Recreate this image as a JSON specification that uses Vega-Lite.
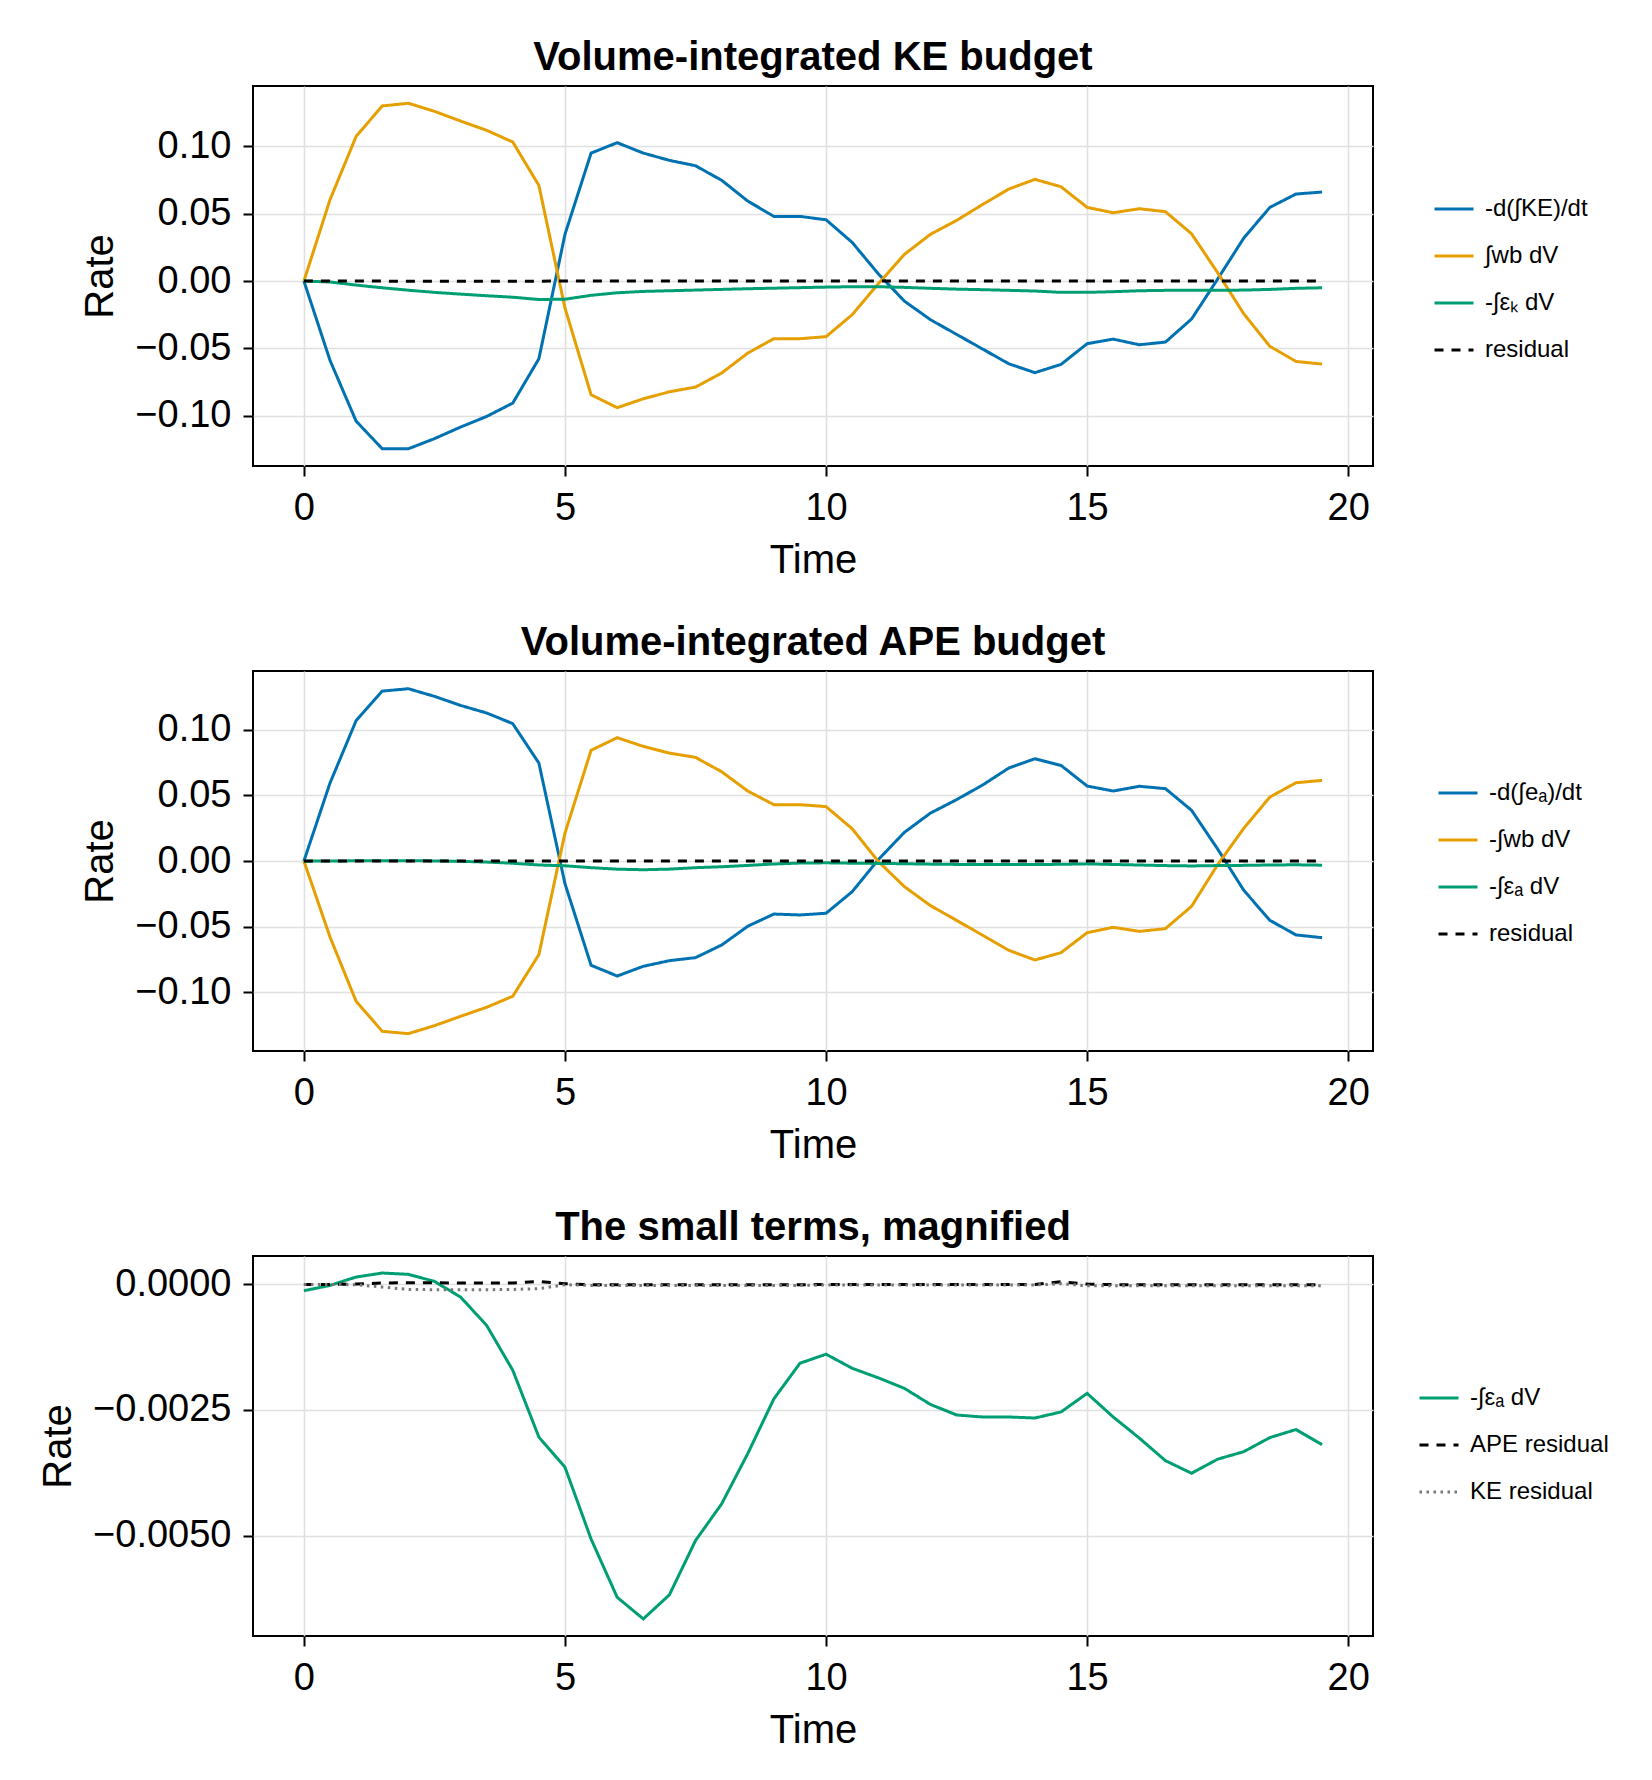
{
  "$schema": "https://vega.github.io/schema/vega-lite/v6.json",
  "background": "white",
  "padding": {"left": 37, "top": 37, "right": 20, "bottom": 10},
  "spacing": 41,
  "config": {
    "font": "Liberation Sans",
    "view": {"stroke": "black", "strokeWidth": 2},
    "axis": {"grid": true, "gridColor": "#e0e0e0", "gridWidth": 1.6, "domain": false, "ticks": true, "tickColor": "black", "tickWidth": 2, "tickSize": 10, "labelFontSize": 38, "labelColor": "black", "labelFont": "Liberation Sans", "titleFont": "Liberation Sans", "titleFontSize": 40, "titleFontWeight": "normal", "titleColor": "black"},
    "axisX": {"labelPadding": 13, "titlePadding": 13},
    "axisY": {"labelPadding": 12, "titlePadding": 14},
    "title": {"fontSize": 40, "fontWeight": "bold", "font": "Liberation Sans", "anchor": "middle", "frame": "group", "offset": 8, "color": "black"},
    "legend": {"orient": "none", "title": null, "labelFontSize": 24, "labelFont": "Liberation Sans", "labelColor": "black", "symbolType": "stroke", "symbolSize": 1521, "symbolStrokeWidth": 3, "labelOffset": 10, "rowPadding": 14, "padding": 0, "labelLimit": 400}
  },
  "resolve": {"scale": {"x": "independent", "y": "independent", "color": "independent", "strokeDash": "independent"}, "legend": {"color": "independent", "strokeDash": "independent"}},
  "datasets": {
    "ke": [
      {"time":0,"series":"-d(∫KE)/dt","rate":0},{"time":0.5,"series":"-d(∫KE)/dt","rate":-0.0589},{"time":1,"series":"-d(∫KE)/dt","rate":-0.104},{"time":1.5,"series":"-d(∫KE)/dt","rate":-0.1245},{"time":2,"series":"-d(∫KE)/dt","rate":-0.1245},{"time":2.5,"series":"-d(∫KE)/dt","rate":-0.117},{"time":3,"series":"-d(∫KE)/dt","rate":-0.1084},{"time":3.5,"series":"-d(∫KE)/dt","rate":-0.1005},{"time":4,"series":"-d(∫KE)/dt","rate":-0.0906},{"time":4.5,"series":"-d(∫KE)/dt","rate":-0.0577},
      {"time":5,"series":"-d(∫KE)/dt","rate":0.0347},{"time":5.5,"series":"-d(∫KE)/dt","rate":0.095},{"time":6,"series":"-d(∫KE)/dt","rate":0.1027},{"time":6.5,"series":"-d(∫KE)/dt","rate":0.095},{"time":7,"series":"-d(∫KE)/dt","rate":0.0896},{"time":7.5,"series":"-d(∫KE)/dt","rate":0.0856},{"time":8,"series":"-d(∫KE)/dt","rate":0.0748},{"time":8.5,"series":"-d(∫KE)/dt","rate":0.0594},{"time":9,"series":"-d(∫KE)/dt","rate":0.048},{"time":9.5,"series":"-d(∫KE)/dt","rate":0.048},
      {"time":10,"series":"-d(∫KE)/dt","rate":0.0455},{"time":10.5,"series":"-d(∫KE)/dt","rate":0.0287},{"time":11,"series":"-d(∫KE)/dt","rate":0.0054},{"time":11.5,"series":"-d(∫KE)/dt","rate":-0.0149},{"time":12,"series":"-d(∫KE)/dt","rate":-0.0287},{"time":12.5,"series":"-d(∫KE)/dt","rate":-0.0396},{"time":13,"series":"-d(∫KE)/dt","rate":-0.0505},{"time":13.5,"series":"-d(∫KE)/dt","rate":-0.0614},{"time":14,"series":"-d(∫KE)/dt","rate":-0.068},{"time":14.5,"series":"-d(∫KE)/dt","rate":-0.0619},
      {"time":15,"series":"-d(∫KE)/dt","rate":-0.0465},{"time":15.5,"series":"-d(∫KE)/dt","rate":-0.0431},{"time":16,"series":"-d(∫KE)/dt","rate":-0.0473},{"time":16.5,"series":"-d(∫KE)/dt","rate":-0.0453},{"time":17,"series":"-d(∫KE)/dt","rate":-0.0282},{"time":17.5,"series":"-d(∫KE)/dt","rate":0.0015},{"time":18,"series":"-d(∫KE)/dt","rate":0.0319},{"time":18.5,"series":"-d(∫KE)/dt","rate":0.0547},{"time":19,"series":"-d(∫KE)/dt","rate":0.0646},{"time":19.5,"series":"-d(∫KE)/dt","rate":0.0661},
      {"time":0,"series":"∫wb dV","rate":0},{"time":0.5,"series":"∫wb dV","rate":0.0604},{"time":1,"series":"∫wb dV","rate":0.1074},{"time":1.5,"series":"∫wb dV","rate":0.13},{"time":2,"series":"∫wb dV","rate":0.132},{"time":2.5,"series":"∫wb dV","rate":0.126},{"time":3,"series":"∫wb dV","rate":0.1188},{"time":3.5,"series":"∫wb dV","rate":0.1119},{"time":4,"series":"∫wb dV","rate":0.1032},{"time":4.5,"series":"∫wb dV","rate":0.071},
      {"time":5,"series":"∫wb dV","rate":-0.02},{"time":5.5,"series":"∫wb dV","rate":-0.0844},{"time":6,"series":"∫wb dV","rate":-0.094},{"time":6.5,"series":"∫wb dV","rate":-0.0874},{"time":7,"series":"∫wb dV","rate":-0.0822},{"time":7.5,"series":"∫wb dV","rate":-0.0787},{"time":8,"series":"∫wb dV","rate":-0.0683},{"time":8.5,"series":"∫wb dV","rate":-0.0535},{"time":9,"series":"∫wb dV","rate":-0.0428},{"time":9.5,"series":"∫wb dV","rate":-0.0428},
      {"time":10,"series":"∫wb dV","rate":-0.0413},{"time":10.5,"series":"∫wb dV","rate":-0.025},{"time":11,"series":"∫wb dV","rate":-0.002},{"time":11.5,"series":"∫wb dV","rate":0.0198},{"time":12,"series":"∫wb dV","rate":0.0347},{"time":12.5,"series":"∫wb dV","rate":0.045},{"time":13,"series":"∫wb dV","rate":0.0569},{"time":13.5,"series":"∫wb dV","rate":0.0683},{"time":14,"series":"∫wb dV","rate":0.0755},{"time":14.5,"series":"∫wb dV","rate":0.07},
      {"time":15,"series":"∫wb dV","rate":0.0547},{"time":15.5,"series":"∫wb dV","rate":0.0507},{"time":16,"series":"∫wb dV","rate":0.0537},{"time":16.5,"series":"∫wb dV","rate":0.0515},{"time":17,"series":"∫wb dV","rate":0.0351},{"time":17.5,"series":"∫wb dV","rate":0.0062},{"time":18,"series":"∫wb dV","rate":-0.0243},{"time":18.5,"series":"∫wb dV","rate":-0.0485},{"time":19,"series":"∫wb dV","rate":-0.0597},{"time":19.5,"series":"∫wb dV","rate":-0.0616},
      {"time":0,"series":"-∫εₖ dV","rate":0},{"time":0.5,"series":"-∫εₖ dV","rate":-0.0007},{"time":1,"series":"-∫εₖ dV","rate":-0.003},{"time":1.5,"series":"-∫εₖ dV","rate":-0.005},{"time":2,"series":"-∫εₖ dV","rate":-0.0068},{"time":2.5,"series":"-∫εₖ dV","rate":-0.0084},{"time":3,"series":"-∫εₖ dV","rate":-0.0097},{"time":3.5,"series":"-∫εₖ dV","rate":-0.0109},{"time":4,"series":"-∫εₖ dV","rate":-0.012},{"time":4.5,"series":"-∫εₖ dV","rate":-0.0137},
      {"time":5,"series":"-∫εₖ dV","rate":-0.0135},{"time":5.5,"series":"-∫εₖ dV","rate":-0.0106},{"time":6,"series":"-∫εₖ dV","rate":-0.0087},{"time":6.5,"series":"-∫εₖ dV","rate":-0.0077},{"time":7,"series":"-∫εₖ dV","rate":-0.0072},{"time":7.5,"series":"-∫εₖ dV","rate":-0.0067},{"time":8,"series":"-∫εₖ dV","rate":-0.0062},{"time":8.5,"series":"-∫εₖ dV","rate":-0.0057},{"time":9,"series":"-∫εₖ dV","rate":-0.0053},{"time":9.5,"series":"-∫εₖ dV","rate":-0.0049},
      {"time":10,"series":"-∫εₖ dV","rate":-0.0045},{"time":10.5,"series":"-∫εₖ dV","rate":-0.0042},{"time":11,"series":"-∫εₖ dV","rate":-0.0042},{"time":11.5,"series":"-∫εₖ dV","rate":-0.0047},{"time":12,"series":"-∫εₖ dV","rate":-0.0054},{"time":12.5,"series":"-∫εₖ dV","rate":-0.006},{"time":13,"series":"-∫εₖ dV","rate":-0.0064},{"time":13.5,"series":"-∫εₖ dV","rate":-0.0069},{"time":14,"series":"-∫εₖ dV","rate":-0.0074},{"time":14.5,"series":"-∫εₖ dV","rate":-0.0084},
      {"time":15,"series":"-∫εₖ dV","rate":-0.0084},{"time":15.5,"series":"-∫εₖ dV","rate":-0.0079},{"time":16,"series":"-∫εₖ dV","rate":-0.0072},{"time":16.5,"series":"-∫εₖ dV","rate":-0.0069},{"time":17,"series":"-∫εₖ dV","rate":-0.0069},{"time":17.5,"series":"-∫εₖ dV","rate":-0.0069},{"time":18,"series":"-∫εₖ dV","rate":-0.0067},{"time":18.5,"series":"-∫εₖ dV","rate":-0.0062},{"time":19,"series":"-∫εₖ dV","rate":-0.0054},{"time":19.5,"series":"-∫εₖ dV","rate":-0.005},
      {"time":0,"series":"residual","rate":0},{"time":0.5,"series":"residual","rate":0},{"time":1,"series":"residual","rate":-0.000007},{"time":1.5,"series":"residual","rate":-0.000053},{"time":2,"series":"residual","rate":-0.0001},{"time":2.5,"series":"residual","rate":-0.000106},{"time":3,"series":"residual","rate":-0.000106},{"time":3.5,"series":"residual","rate":-0.000106},{"time":4,"series":"residual","rate":-0.0001},{"time":4.5,"series":"residual","rate":-0.000086},
      {"time":5,"series":"residual","rate":-0.000007},{"time":5.5,"series":"residual","rate":-0.00002},{"time":6,"series":"residual","rate":-0.00002},{"time":6.5,"series":"residual","rate":-0.00002},{"time":7,"series":"residual","rate":-0.00002},{"time":7.5,"series":"residual","rate":-0.00002},{"time":8,"series":"residual","rate":-0.00002},{"time":8.5,"series":"residual","rate":-0.00002},{"time":9,"series":"residual","rate":-0.00002},{"time":9.5,"series":"residual","rate":-0.00002},
      {"time":10,"series":"residual","rate":-0.000013},{"time":10.5,"series":"residual","rate":-0.000013},{"time":11,"series":"residual","rate":-0.000013},{"time":11.5,"series":"residual","rate":-0.000013},{"time":12,"series":"residual","rate":-0.000013},{"time":12.5,"series":"residual","rate":-0.000013},{"time":13,"series":"residual","rate":-0.000013},{"time":13.5,"series":"residual","rate":-0.000013},{"time":14,"series":"residual","rate":-0.000013},{"time":14.5,"series":"residual","rate":0.000013},
      {"time":15,"series":"residual","rate":-0.000027},{"time":15.5,"series":"residual","rate":-0.000027},{"time":16,"series":"residual","rate":-0.000027},{"time":16.5,"series":"residual","rate":-0.000027},{"time":17,"series":"residual","rate":-0.000027},{"time":17.5,"series":"residual","rate":-0.000027},{"time":18,"series":"residual","rate":-0.000027},{"time":18.5,"series":"residual","rate":-0.000027},{"time":19,"series":"residual","rate":-0.000027},{"time":19.5,"series":"residual","rate":-0.000027}
    ],
    "ape": [
      {"time":0,"series":"-d(∫eₐ)/dt","rate":0},{"time":0.5,"series":"-d(∫eₐ)/dt","rate":0.0594},{"time":1,"series":"-d(∫eₐ)/dt","rate":0.1069},{"time":1.5,"series":"-d(∫eₐ)/dt","rate":0.1294},{"time":2,"series":"-d(∫eₐ)/dt","rate":0.1312},{"time":2.5,"series":"-d(∫eₐ)/dt","rate":0.1254},{"time":3,"series":"-d(∫eₐ)/dt","rate":0.1185},{"time":3.5,"series":"-d(∫eₐ)/dt","rate":0.1127},{"time":4,"series":"-d(∫eₐ)/dt","rate":0.1046},{"time":4.5,"series":"-d(∫eₐ)/dt","rate":0.0746},
      {"time":5,"series":"-d(∫eₐ)/dt","rate":-0.0173},{"time":5.5,"series":"-d(∫eₐ)/dt","rate":-0.0794},{"time":6,"series":"-d(∫eₐ)/dt","rate":-0.0876},{"time":6.5,"series":"-d(∫eₐ)/dt","rate":-0.0802},{"time":7,"series":"-d(∫eₐ)/dt","rate":-0.0759},{"time":7.5,"series":"-d(∫eₐ)/dt","rate":-0.0736},{"time":8,"series":"-d(∫eₐ)/dt","rate":-0.064},{"time":8.5,"series":"-d(∫eₐ)/dt","rate":-0.0497},{"time":9,"series":"-d(∫eₐ)/dt","rate":-0.0404},{"time":9.5,"series":"-d(∫eₐ)/dt","rate":-0.0411},
      {"time":10,"series":"-d(∫eₐ)/dt","rate":-0.0398},{"time":10.5,"series":"-d(∫eₐ)/dt","rate":-0.0234},{"time":11,"series":"-d(∫eₐ)/dt","rate":0.001},{"time":11.5,"series":"-d(∫eₐ)/dt","rate":0.0218},{"time":12,"series":"-d(∫eₐ)/dt","rate":0.0365},{"time":12.5,"series":"-d(∫eₐ)/dt","rate":0.0467},{"time":13,"series":"-d(∫eₐ)/dt","rate":0.0579},{"time":13.5,"series":"-d(∫eₐ)/dt","rate":0.0708},{"time":14,"series":"-d(∫eₐ)/dt","rate":0.0779},{"time":14.5,"series":"-d(∫eₐ)/dt","rate":0.0728},
      {"time":15,"series":"-d(∫eₐ)/dt","rate":0.0571},{"time":15.5,"series":"-d(∫eₐ)/dt","rate":0.0533},{"time":16,"series":"-d(∫eₐ)/dt","rate":0.0569},{"time":16.5,"series":"-d(∫eₐ)/dt","rate":0.0551},{"time":17,"series":"-d(∫eₐ)/dt","rate":0.0386},{"time":17.5,"series":"-d(∫eₐ)/dt","rate":0.0091},{"time":18,"series":"-d(∫eₐ)/dt","rate":-0.0223},{"time":18.5,"series":"-d(∫eₐ)/dt","rate":-0.0452},{"time":19,"series":"-d(∫eₐ)/dt","rate":-0.0563},{"time":19.5,"series":"-d(∫eₐ)/dt","rate":-0.0584},
      {"time":0,"series":"-∫wb dV","rate":0},{"time":0.5,"series":"-∫wb dV","rate":-0.0579},{"time":1,"series":"-∫wb dV","rate":-0.1069},{"time":1.5,"series":"-∫wb dV","rate":-0.1297},{"time":2,"series":"-∫wb dV","rate":-0.1315},{"time":2.5,"series":"-∫wb dV","rate":-0.1254},{"time":3,"series":"-∫wb dV","rate":-0.1183},{"time":3.5,"series":"-∫wb dV","rate":-0.1114},{"time":4,"series":"-∫wb dV","rate":-0.103},{"time":4.5,"series":"-∫wb dV","rate":-0.0713},
      {"time":5,"series":"-∫wb dV","rate":0.0213},{"time":5.5,"series":"-∫wb dV","rate":0.0843},{"time":6,"series":"-∫wb dV","rate":0.0939},{"time":6.5,"series":"-∫wb dV","rate":0.0873},{"time":7,"series":"-∫wb dV","rate":0.0822},{"time":7.5,"series":"-∫wb dV","rate":0.0789},{"time":8,"series":"-∫wb dV","rate":0.068},{"time":8.5,"series":"-∫wb dV","rate":0.0533},{"time":9,"series":"-∫wb dV","rate":0.0429},{"time":9.5,"series":"-∫wb dV","rate":0.0429},
      {"time":10,"series":"-∫wb dV","rate":0.0414},{"time":10.5,"series":"-∫wb dV","rate":0.0246},{"time":11,"series":"-∫wb dV","rate":-0.0003},{"time":11.5,"series":"-∫wb dV","rate":-0.0195},{"time":12,"series":"-∫wb dV","rate":-0.034},{"time":12.5,"series":"-∫wb dV","rate":-0.0452},{"time":13,"series":"-∫wb dV","rate":-0.0566},{"time":13.5,"series":"-∫wb dV","rate":-0.068},{"time":14,"series":"-∫wb dV","rate":-0.0754},{"time":14.5,"series":"-∫wb dV","rate":-0.0698},
      {"time":15,"series":"-∫wb dV","rate":-0.0546},{"time":15.5,"series":"-∫wb dV","rate":-0.0505},{"time":16,"series":"-∫wb dV","rate":-0.0536},{"time":16.5,"series":"-∫wb dV","rate":-0.0515},{"time":17,"series":"-∫wb dV","rate":-0.0345},{"time":17.5,"series":"-∫wb dV","rate":-0.0028},{"time":18,"series":"-∫wb dV","rate":0.0249},{"time":18.5,"series":"-∫wb dV","rate":0.0487},{"time":19,"series":"-∫wb dV","rate":0.0596},{"time":19.5,"series":"-∫wb dV","rate":0.0614},
      {"time":0,"series":"-∫εₐ dV","rate":-0.000126},{"time":0.5,"series":"-∫εₐ dV","rate":-0.00002},{"time":1,"series":"-∫εₐ dV","rate":0.000146},{"time":1.5,"series":"-∫εₐ dV","rate":0.000226},{"time":2,"series":"-∫εₐ dV","rate":0.0002},{"time":2.5,"series":"-∫εₐ dV","rate":0.00006},{"time":3,"series":"-∫εₐ dV","rate":-0.000252},{"time":3.5,"series":"-∫εₐ dV","rate":-0.000817},{"time":4,"series":"-∫εₐ dV","rate":-0.00171},{"time":4.5,"series":"-∫εₐ dV","rate":-0.00304},
      {"time":5,"series":"-∫εₐ dV","rate":-0.00364},{"time":5.5,"series":"-∫εₐ dV","rate":-0.00507},{"time":6,"series":"-∫εₐ dV","rate":-0.00623},{"time":6.5,"series":"-∫εₐ dV","rate":-0.00666},{"time":7,"series":"-∫εₐ dV","rate":-0.00618},{"time":7.5,"series":"-∫εₐ dV","rate":-0.0051},{"time":8,"series":"-∫εₐ dV","rate":-0.00437},{"time":8.5,"series":"-∫εₐ dV","rate":-0.00337},{"time":9,"series":"-∫εₐ dV","rate":-0.00228},{"time":9.5,"series":"-∫εₐ dV","rate":-0.00157},
      {"time":10,"series":"-∫εₐ dV","rate":-0.00139},{"time":10.5,"series":"-∫εₐ dV","rate":-0.00167},{"time":11,"series":"-∫εₐ dV","rate":-0.00186},{"time":11.5,"series":"-∫εₐ dV","rate":-0.00207},{"time":12,"series":"-∫εₐ dV","rate":-0.00239},{"time":12.5,"series":"-∫εₐ dV","rate":-0.0026},{"time":13,"series":"-∫εₐ dV","rate":-0.00264},{"time":13.5,"series":"-∫εₐ dV","rate":-0.00264},{"time":14,"series":"-∫εₐ dV","rate":-0.00266},{"time":14.5,"series":"-∫εₐ dV","rate":-0.00254},
      {"time":15,"series":"-∫εₐ dV","rate":-0.00217},{"time":15.5,"series":"-∫εₐ dV","rate":-0.00264},{"time":16,"series":"-∫εₐ dV","rate":-0.00306},{"time":16.5,"series":"-∫εₐ dV","rate":-0.00351},{"time":17,"series":"-∫εₐ dV","rate":-0.00376},{"time":17.5,"series":"-∫εₐ dV","rate":-0.00348},{"time":18,"series":"-∫εₐ dV","rate":-0.00333},{"time":18.5,"series":"-∫εₐ dV","rate":-0.00305},{"time":19,"series":"-∫εₐ dV","rate":-0.00289},{"time":19.5,"series":"-∫εₐ dV","rate":-0.00319},
      {"time":0,"series":"residual","rate":0},{"time":0.5,"series":"residual","rate":0},{"time":1,"series":"residual","rate":0.000007},{"time":1.5,"series":"residual","rate":0.000027},{"time":2,"series":"residual","rate":0.000033},{"time":2.5,"series":"residual","rate":0.000033},{"time":3,"series":"residual","rate":0.000027},{"time":3.5,"series":"residual","rate":0.000027},{"time":4,"series":"residual","rate":0.000027},{"time":4.5,"series":"residual","rate":0.00006},
      {"time":5,"series":"residual","rate":0.000013},{"time":5.5,"series":"residual","rate":-0.000007},{"time":6,"series":"residual","rate":-0.000007},{"time":6.5,"series":"residual","rate":-0.000007},{"time":7,"series":"residual","rate":-0.000007},{"time":7.5,"series":"residual","rate":-0.000007},{"time":8,"series":"residual","rate":-0.000007},{"time":8.5,"series":"residual","rate":-0.000007},{"time":9,"series":"residual","rate":-0.000007},{"time":9.5,"series":"residual","rate":-0.000007},
      {"time":10,"series":"residual","rate":0},{"time":10.5,"series":"residual","rate":0},{"time":11,"series":"residual","rate":0},{"time":11.5,"series":"residual","rate":0},{"time":12,"series":"residual","rate":0},{"time":12.5,"series":"residual","rate":0},{"time":13,"series":"residual","rate":0},{"time":13.5,"series":"residual","rate":0},{"time":14,"series":"residual","rate":0},{"time":14.5,"series":"residual","rate":0.000053},
      {"time":15,"series":"residual","rate":0.000007},{"time":15.5,"series":"residual","rate":-0.000005},{"time":16,"series":"residual","rate":-0.000005},{"time":16.5,"series":"residual","rate":-0.000005},{"time":17,"series":"residual","rate":-0.000005},{"time":17.5,"series":"residual","rate":-0.000005},{"time":18,"series":"residual","rate":-0.000005},{"time":18.5,"series":"residual","rate":-0.000005},{"time":19,"series":"residual","rate":-0.000005},{"time":19.5,"series":"residual","rate":-0.000005}
    ],
    "small": [
      {"time":0,"series":"-∫εₐ dV","rate":-0.000126},{"time":0.5,"series":"-∫εₐ dV","rate":-0.00002},{"time":1,"series":"-∫εₐ dV","rate":0.000146},{"time":1.5,"series":"-∫εₐ dV","rate":0.000226},{"time":2,"series":"-∫εₐ dV","rate":0.0002},{"time":2.5,"series":"-∫εₐ dV","rate":0.00006},{"time":3,"series":"-∫εₐ dV","rate":-0.000252},{"time":3.5,"series":"-∫εₐ dV","rate":-0.000817},{"time":4,"series":"-∫εₐ dV","rate":-0.00171},{"time":4.5,"series":"-∫εₐ dV","rate":-0.00304},
      {"time":5,"series":"-∫εₐ dV","rate":-0.00364},{"time":5.5,"series":"-∫εₐ dV","rate":-0.00507},{"time":6,"series":"-∫εₐ dV","rate":-0.00623},{"time":6.5,"series":"-∫εₐ dV","rate":-0.00666},{"time":7,"series":"-∫εₐ dV","rate":-0.00618},{"time":7.5,"series":"-∫εₐ dV","rate":-0.0051},{"time":8,"series":"-∫εₐ dV","rate":-0.00437},{"time":8.5,"series":"-∫εₐ dV","rate":-0.00337},{"time":9,"series":"-∫εₐ dV","rate":-0.00228},{"time":9.5,"series":"-∫εₐ dV","rate":-0.00157},
      {"time":10,"series":"-∫εₐ dV","rate":-0.00139},{"time":10.5,"series":"-∫εₐ dV","rate":-0.00167},{"time":11,"series":"-∫εₐ dV","rate":-0.00186},{"time":11.5,"series":"-∫εₐ dV","rate":-0.00207},{"time":12,"series":"-∫εₐ dV","rate":-0.00239},{"time":12.5,"series":"-∫εₐ dV","rate":-0.0026},{"time":13,"series":"-∫εₐ dV","rate":-0.00264},{"time":13.5,"series":"-∫εₐ dV","rate":-0.00264},{"time":14,"series":"-∫εₐ dV","rate":-0.00266},{"time":14.5,"series":"-∫εₐ dV","rate":-0.00254},
      {"time":15,"series":"-∫εₐ dV","rate":-0.00217},{"time":15.5,"series":"-∫εₐ dV","rate":-0.00264},{"time":16,"series":"-∫εₐ dV","rate":-0.00306},{"time":16.5,"series":"-∫εₐ dV","rate":-0.00351},{"time":17,"series":"-∫εₐ dV","rate":-0.00376},{"time":17.5,"series":"-∫εₐ dV","rate":-0.00348},{"time":18,"series":"-∫εₐ dV","rate":-0.00333},{"time":18.5,"series":"-∫εₐ dV","rate":-0.00305},{"time":19,"series":"-∫εₐ dV","rate":-0.00289},{"time":19.5,"series":"-∫εₐ dV","rate":-0.00319},
      {"time":0,"series":"APE residual","rate":0},{"time":0.5,"series":"APE residual","rate":0},{"time":1,"series":"APE residual","rate":0.000007},{"time":1.5,"series":"APE residual","rate":0.000027},{"time":2,"series":"APE residual","rate":0.000033},{"time":2.5,"series":"APE residual","rate":0.000033},{"time":3,"series":"APE residual","rate":0.000027},{"time":3.5,"series":"APE residual","rate":0.000027},{"time":4,"series":"APE residual","rate":0.000027},{"time":4.5,"series":"APE residual","rate":0.00006},
      {"time":5,"series":"APE residual","rate":0.000013},{"time":5.5,"series":"APE residual","rate":-0.000007},{"time":6,"series":"APE residual","rate":-0.000007},{"time":6.5,"series":"APE residual","rate":-0.000007},{"time":7,"series":"APE residual","rate":-0.000007},{"time":7.5,"series":"APE residual","rate":-0.000007},{"time":8,"series":"APE residual","rate":-0.000007},{"time":8.5,"series":"APE residual","rate":-0.000007},{"time":9,"series":"APE residual","rate":-0.000007},{"time":9.5,"series":"APE residual","rate":-0.000007},
      {"time":10,"series":"APE residual","rate":0},{"time":10.5,"series":"APE residual","rate":0},{"time":11,"series":"APE residual","rate":0},{"time":11.5,"series":"APE residual","rate":0},{"time":12,"series":"APE residual","rate":0},{"time":12.5,"series":"APE residual","rate":0},{"time":13,"series":"APE residual","rate":0},{"time":13.5,"series":"APE residual","rate":0},{"time":14,"series":"APE residual","rate":0},{"time":14.5,"series":"APE residual","rate":0.000053},
      {"time":15,"series":"APE residual","rate":0.000007},{"time":15.5,"series":"APE residual","rate":-0.000005},{"time":16,"series":"APE residual","rate":-0.000005},{"time":16.5,"series":"APE residual","rate":-0.000005},{"time":17,"series":"APE residual","rate":-0.000005},{"time":17.5,"series":"APE residual","rate":-0.000005},{"time":18,"series":"APE residual","rate":-0.000005},{"time":18.5,"series":"APE residual","rate":-0.000005},{"time":19,"series":"APE residual","rate":-0.000005},{"time":19.5,"series":"APE residual","rate":-0.000005},
      {"time":0,"series":"KE residual","rate":0},{"time":0.5,"series":"KE residual","rate":0},{"time":1,"series":"KE residual","rate":-0.000007},{"time":1.5,"series":"KE residual","rate":-0.000053},{"time":2,"series":"KE residual","rate":-0.0001},{"time":2.5,"series":"KE residual","rate":-0.000106},{"time":3,"series":"KE residual","rate":-0.000106},{"time":3.5,"series":"KE residual","rate":-0.000106},{"time":4,"series":"KE residual","rate":-0.0001},{"time":4.5,"series":"KE residual","rate":-0.000086},
      {"time":5,"series":"KE residual","rate":-0.000007},{"time":5.5,"series":"KE residual","rate":-0.00002},{"time":6,"series":"KE residual","rate":-0.00002},{"time":6.5,"series":"KE residual","rate":-0.00002},{"time":7,"series":"KE residual","rate":-0.00002},{"time":7.5,"series":"KE residual","rate":-0.00002},{"time":8,"series":"KE residual","rate":-0.00002},{"time":8.5,"series":"KE residual","rate":-0.00002},{"time":9,"series":"KE residual","rate":-0.00002},{"time":9.5,"series":"KE residual","rate":-0.00002},
      {"time":10,"series":"KE residual","rate":-0.000013},{"time":10.5,"series":"KE residual","rate":-0.000013},{"time":11,"series":"KE residual","rate":-0.000013},{"time":11.5,"series":"KE residual","rate":-0.000013},{"time":12,"series":"KE residual","rate":-0.000013},{"time":12.5,"series":"KE residual","rate":-0.000013},{"time":13,"series":"KE residual","rate":-0.000013},{"time":13.5,"series":"KE residual","rate":-0.000013},{"time":14,"series":"KE residual","rate":-0.000013},{"time":14.5,"series":"KE residual","rate":0.000013},
      {"time":15,"series":"KE residual","rate":-0.000027},{"time":15.5,"series":"KE residual","rate":-0.000027},{"time":16,"series":"KE residual","rate":-0.000027},{"time":16.5,"series":"KE residual","rate":-0.000027},{"time":17,"series":"KE residual","rate":-0.000027},{"time":17.5,"series":"KE residual","rate":-0.000027},{"time":18,"series":"KE residual","rate":-0.000027},{"time":18.5,"series":"KE residual","rate":-0.000027},{"time":19,"series":"KE residual","rate":-0.000027},{"time":19.5,"series":"KE residual","rate":-0.000027}
    ]
  },
  "vconcat": [
    {
      "title": {"text": "Volume-integrated KE budget"},
      "width": 1120, "height": 380,
      "data": {"name": "ke"},
      "mark": {"type": "line", "strokeWidth": 3},
      "encoding": {
        "x": {"field": "time", "type": "quantitative", "scale": {"domain": [-0.975, 20.475], "nice": false, "zero": false}, "axis": {"values": [0, 5, 10, 15, 20], "format": "d", "title": "Time"}},
        "y": {"field": "rate", "type": "quantitative", "scale": {"domain": [-0.1373, 0.1448], "nice": false, "zero": false}, "axis": {"values": [-0.1, -0.05, 0, 0.05, 0.1], "title": "Rate", "labelExpr": "replace(format(datum.value, '.2f'), '-', '−')"}},
        "color": {"field": "series", "type": "nominal", "scale": {"domain": ["-d(∫KE)/dt", "∫wb dV", "-∫εₖ dV", "residual"], "range": ["#0072B2", "#E69F00", "#009E73", "#000000"]}, "legend": {"legendX": 1180, "legendY": 102}},
        "strokeDash": {"field": "series", "type": "nominal", "scale": {"domain": ["-d(∫KE)/dt", "∫wb dV", "-∫εₖ dV", "residual"], "range": [[1, 0], [1, 0], [1, 0], [9, 8]]}, "legend": {"legendX": 1180, "legendY": 102}}
      }
    },
    {
      "title": {"text": "Volume-integrated APE budget"},
      "width": 1120, "height": 380,
      "data": {"name": "ape"},
      "mark": {"type": "line", "strokeWidth": 3},
      "encoding": {
        "x": {"field": "time", "type": "quantitative", "scale": {"domain": [-0.975, 20.475], "nice": false, "zero": false}, "axis": {"values": [0, 5, 10, 15, 20], "format": "d", "title": "Time"}},
        "y": {"field": "rate", "type": "quantitative", "scale": {"domain": [-0.1447, 0.1447], "nice": false, "zero": false}, "axis": {"values": [-0.1, -0.05, 0, 0.05, 0.1], "title": "Rate", "labelExpr": "replace(format(datum.value, '.2f'), '-', '−')"}},
        "color": {"field": "series", "type": "nominal", "scale": {"domain": ["-d(∫eₐ)/dt", "-∫wb dV", "-∫εₐ dV", "residual"], "range": ["#0072B2", "#E69F00", "#009E73", "#000000"]}, "legend": {"legendX": 1184, "legendY": 101}},
        "strokeDash": {"field": "series", "type": "nominal", "scale": {"domain": ["-d(∫eₐ)/dt", "-∫wb dV", "-∫εₐ dV", "residual"], "range": [[1, 0], [1, 0], [1, 0], [9, 8]]}, "legend": {"legendX": 1184, "legendY": 101}}
      }
    },
    {
      "title": {"text": "The small terms, magnified"},
      "width": 1120, "height": 380,
      "data": {"name": "small"},
      "mark": {"type": "line", "strokeWidth": 3},
      "encoding": {
        "x": {"field": "time", "type": "quantitative", "scale": {"domain": [-0.975, 20.475], "nice": false, "zero": false}, "axis": {"values": [0, 5, 10, 15, 20], "format": "d", "title": "Time"}},
        "y": {"field": "rate", "type": "quantitative", "scale": {"domain": [-0.007, 0.000565], "nice": false, "zero": false}, "axis": {"values": [-0.005, -0.0025, 0], "title": "Rate", "labelExpr": "replace(format(datum.value, '.4f'), '-', '−')"}},
        "color": {"field": "series", "type": "nominal", "scale": {"domain": ["-∫εₐ dV", "APE residual", "KE residual"], "range": ["#009E73", "#000000", "#777777"]}, "legend": {"legendX": 1165, "legendY": 121}},
        "strokeDash": {"field": "series", "type": "nominal", "scale": {"domain": ["-∫εₐ dV", "APE residual", "KE residual"], "range": [[1, 0], [9, 8], [2.5, 4.5]]}, "legend": {"legendX": 1165, "legendY": 121}}
      }
    }
  ]
}
